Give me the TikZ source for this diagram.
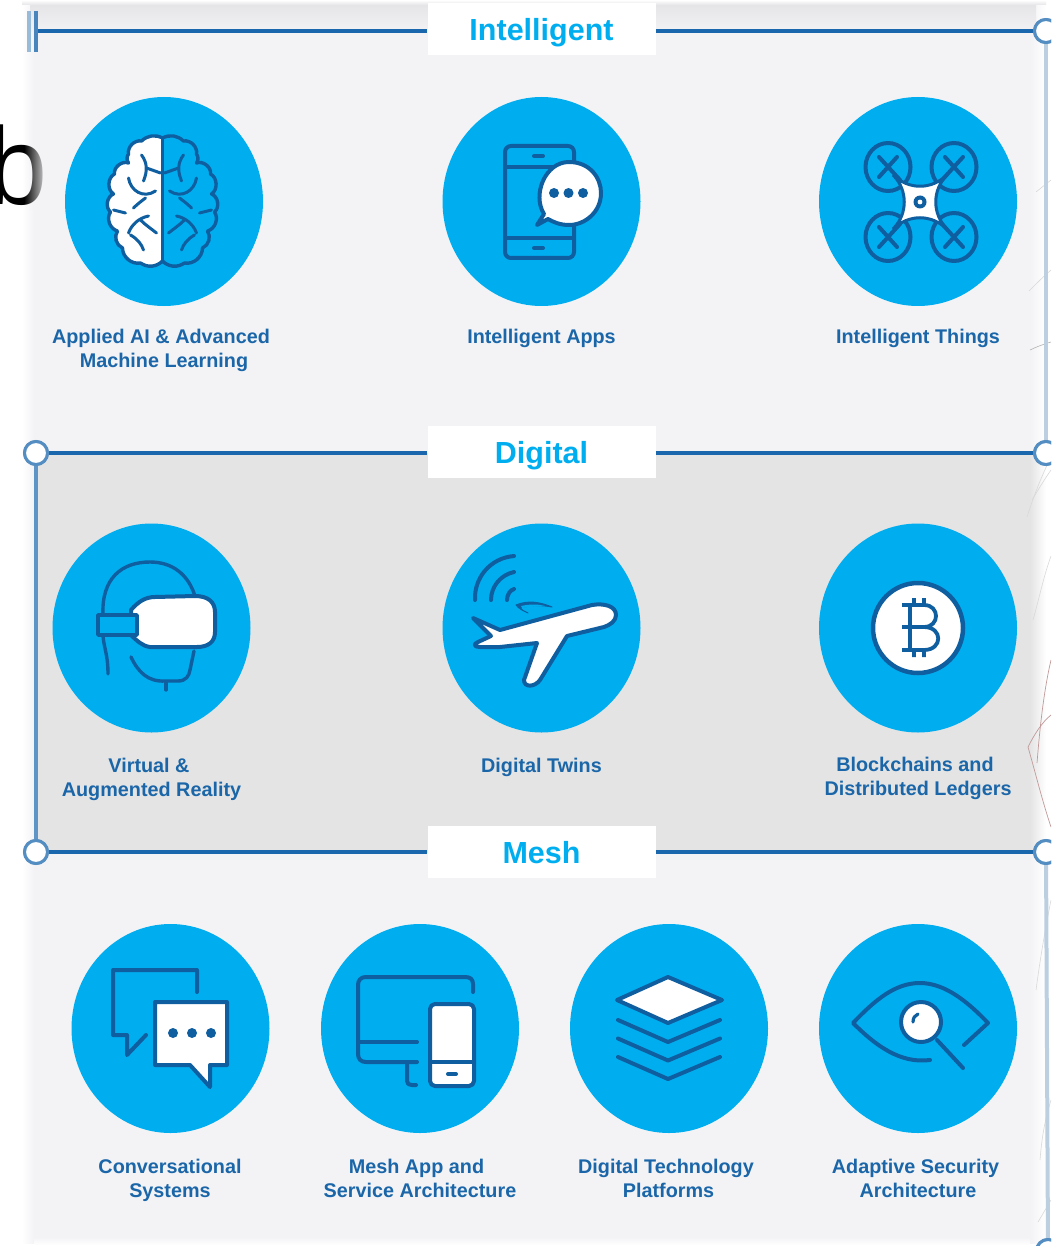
\documentclass[tikz,border=0pt]{standalone}
\usepackage{fontspec}
\setmainfont{Liberation Sans}
\usetikzlibrary{fadings,shapes.geometric}
\definecolor{panel}{HTML}{F3F3F6}
\definecolor{band}{HTML}{E4E4E4}
\definecolor{cyanc}{HTML}{00AEEF}
\definecolor{ink}{HTML}{0F5E9F}
\definecolor{labelc}{HTML}{1A66A8}
\definecolor{rulec}{HTML}{1B67AD}
\definecolor{sidec}{HTML}{BBCFE0}
\tikzfading[name=bfade,left color=transparent!100,right color=transparent!15]
\tikzset{
  disc/.style={draw=none,fill=cyanc,ellipse,minimum width=198pt,minimum height=209pt,inner sep=0pt},
  hdr/.style={fill=white,minimum width=228pt,minimum height=52pt,inner sep=0pt,text=cyanc,text height=23pt,text depth=0pt,font=\fontsize{30.5}{32}\selectfont\bfseries},
  lbl/.style={text=labelc,align=center,inner sep=0pt,font=\fontsize{19.8}{24}\selectfont\bfseries},
  handle/.style={circle,draw=rulec!75,fill=white,line width=3pt,minimum size=23pt,inner sep=0pt},
  rulel/.style={draw=rulec,line width=3.4pt},
  ico/.style={draw=ink,line width=4pt,line cap=round,line join=round},
  icow/.style={ico,fill=white},
  dotb/.style={fill=ink,draw=none},
  streak/.style={line width=.6pt,draw=black!15},
  streakr/.style={line width=.7pt,draw=red!40!black!40},
}
\newcommand{\brainhalf}{%
  (-1,-63) to[bend right=35] (-22,-60) to[bend right=55] (-35,-47) to[bend right=35] (-35,-38)
  to[bend right=60] (-49,-27) to[bend right=60] (-50,-7) to[bend right=60] (-53,11)
  to[bend right=55] (-46,30) to[bend right=50] (-41,47) to[bend right=50] (-23,62) to[bend right=40] (-1,60)}
\newcommand{\brainfolds}{%
  (-35,-23) .. controls (-33,-10) and (-20,-2) .. (-8,-10)
  (-22,-46) .. controls (-16,-38) and (-16,-30) .. (-20,-20)
  (-17,-33) -- (-3,-28)
  (-50,9) -- (-38,12)
  (-30,7) .. controls (-26,3) and (-22,0) .. (-18,-3)
  (-35,32) .. controls (-32,24) and (-25,17) .. (-15,15)
  (-23,19) .. controls (-18,24) and (-12,28) .. (-7,32)
  (-33,34) .. controls (-26,38) and (-22,43) .. (-20,49)}
\begin{document}
\begin{tikzpicture}[x=1pt,y=-1pt]
\useasboundingbox (0,0) rectangle (1051,1246);
\clip (0,0) rectangle (1051,1246);
% backgrounds
\fill[white] (0,0) rectangle (1051,1246);
\shade[left color=white,right color=panel] (22,3) rectangle (34,1243);
\fill[panel] (34,2) rectangle (1030,1238);
\shade[left color=panel,right color=white] (1030,2) rectangle (1046,1243);
\shade[top color=panel!94!black,bottom color=panel] (30,4) rectangle (1036,32);
\shade[top color=white,bottom color=panel!94!black] (22,0) rectangle (1046,5);
\shade[top color=panel,bottom color=white] (34,1237) rectangle (1030,1245);
\fill[band] (36,453) rectangle (1030,853);
\shade[left color=band,right color=white] (1030,453) rectangle (1046,853);
% faint strokes in the right margin
\draw[streak] (1051,270) .. controls (1044,276) and (1036,284) .. (1029,291);
\draw[streak] (1051,180) -- (1036,192);
\draw[streak,draw=black!30] (1051,342) .. controls (1044,344) and (1036,347) .. (1030,350);
\draw[streak] (1051,457) .. controls (1042,475) and (1034,495) .. (1027,517);
\draw[streak] (1051,470) .. controls (1044,480) and (1038,490) .. (1032,500);
\draw[streak] (1051,556) .. controls (1044,575) and (1040,595) .. (1033,620);
\draw[streakr] (1051,660) .. controls (1044,690) and (1040,725) .. (1037,763);
\draw[streakr] (1051,715) .. controls (1042,722) and (1034,735) .. (1028,747);
\draw[streakr] (1028,747) .. controls (1036,775) and (1042,800) .. (1051,827);
\draw[streak] (1051,900) .. controls (1045,930) and (1040,960) .. (1036,990);
\draw[streak] (1051,1100) .. controls (1045,1120) and (1042,1135) .. (1040,1160);
\draw[streak] (1051,1200) -- (1038,1222);
% the large letter
\node[anchor=base west,inner sep=0pt,font=\fontsize{110}{110}\selectfont,text=black] (bletter) at (-14,205) {b};
\fill[panel,path fading=bfade] (24,120) rectangle (45,210);
% frame
\node[hdr] (hI) at (541.5,29) {Intelligent};
\node[hdr] (hD) at (541.5,452) {Digital};
\node[hdr] (hM) at (541.5,852) {Mesh};
\coordinate (tl) at (36,31);
\coordinate (tb) at (36,11);
\coordinate (bb) at (36,52);
\coordinate (ta) at (29,11);
\coordinate (ba) at (29,52);
\node[handle] (hr1) at (1046,31) {};
\node[handle] (hl2) at (36,453) {};
\node[handle] (hr2) at (1046,453) {};
\node[handle] (hl3) at (36,852) {};
\node[handle] (hr3) at (1046,852) {};
\node[handle] (hr4) at (1048,1251) {};
\draw[draw=sidec,line width=4pt] (hr1) -- (hr2);
\draw[draw=sidec,line width=4pt] (hr3) -- (hr4);
\draw[rulel] (tl) -- (tl -| hI.west);
\draw[rulel] (hr1) -- (hr1 -| hI.east);
\draw[rulel] (hl2) -- (hl2 -| hD.west);
\draw[rulel] (hr2) -- (hr2 -| hD.east);
\draw[rulel] (hl3) -- (hl3 -| hM.west);
\draw[rulel] (hr3) -- (hr3 -| hM.east);
\draw[draw=rulec!70,line width=3.4pt] (hl2) -- (hl3);
\node[handle] at (hr1) {};
\node[handle] at (hl2) {};
\node[handle] at (hr2) {};
\node[handle] at (hl3) {};
\node[handle] at (hr3) {};
\node[handle] at (hr4) {};
\draw[rulec!45,line width=3.2pt] (ta) -- (ba);
\draw[rulec!80,line width=3.2pt] (tb) -- (bb);
% discs
\node[disc] (d1) at (164,201.5) {};
\node[disc] (d2) at (541.5,201.5) {};
\node[disc] (d3) at (918,201.5) {};
\node[disc] (d4) at (151.5,628) {};
\node[disc] (d5) at (541.5,628) {};
\node[disc] (d6) at (918,628) {};
\node[disc] (d7) at (170.5,1028.5) {};
\node[disc] (d8) at (420,1028.5) {};
\node[disc] (d9) at (669,1028.5) {};
\node[disc] (d10) at (918,1028.5) {};
% labels
\node[lbl] (l1) at (161,350) {Applied AI \& Advanced\\\hspace*{6pt}Machine Learning};
\node[lbl] (l2) at (541.5,338) {Intelligent Apps};
\node[lbl] (l3) at (918,338) {Intelligent Things};
\node[lbl] (l4) at (151.5,779) {\hspace*{-5pt}Virtual \&\\Augmented Reality};
\node[lbl] (l5) at (541.5,767) {Digital Twins};
\node[lbl] (l6) at (918,778) {\hspace*{-6pt}Blockchains and\\Distributed Ledgers};
\node[lbl] (l7) at (170,1180) {Conversational\\Systems};
\node[lbl] (l8) at (420,1178) {\hspace*{-7pt}Mesh App and\\Service Architecture};
\node[lbl] (l9) at (666,1178) {Digital Technology\\\hspace*{5pt}Platforms};
\node[lbl] (l10) at (915.5,1178) {Adaptive Security\\\hspace*{5pt}Architecture};
% brain
\begin{scope}[shift={(163.5,201)}]
  \fill[white] \brainhalf -- cycle;
  \draw[ico,line width=3.4pt] \brainhalf;
  \draw[ico,line width=3pt] \brainfolds;
  \draw[ico,line width=3.4pt] (-1,-63) -- (-1,61);
  \begin{scope}[xscale=-1,shift={(2,0)}]
    \draw[ico,line width=3.4pt] \brainhalf;
    \draw[ico,line width=3pt] \brainfolds;
  \end{scope}
\end{scope}
% phone + chat
\draw[ico,rounded corners=6pt] (505,146) rectangle (574,258);
\draw[ico] (505,167) -- (574,167) (505,238) -- (574,238);
\draw[ico] (534,156) -- (543,156) (534,248) -- (543,248);
\draw[icow] (544,214) .. controls (532,195) and (545,162) .. (569,162)
  .. controls (590,162) and (601,178) .. (601,193)
  .. controls (601,212) and (585,225) .. (569,225)
  .. controls (560,225) and (553,222) .. (548,219) -- (537,225) -- cycle;
\foreach \x in {554,568.5,583} \fill[dotb] (\x,193) circle (5pt);
% drone
\foreach \x/\y in {888/167,954/167,888/237,954/237}
  \draw[ico] (\x,\y) ellipse (22.5pt and 24pt);
\draw[ico] (879,157) -- (900,180) (897,157) -- (879,177);
\draw[ico] (963,157) -- (942,180) (945,157) -- (963,177);
\draw[ico] (879,247) -- (900,224) (897,247) -- (879,227);
\draw[ico] (963,247) -- (942,224) (945,247) -- (963,227);
\draw[icow,line width=3pt,line join=miter] (893,175) .. controls (909,190) and (931,190) .. (947,175)
  .. controls (932,190) and (932,214) .. (947,229)
  .. controls (931,214) and (909,214) .. (893,229)
  .. controls (908,214) and (908,190) .. (893,175) -- cycle;
\fill[ink] (920,202) circle (6.5pt);
\fill[white] (920,202) circle (2.4pt);
% VR headset
\draw[ico,line width=3.4pt] (103,616) .. controls (101,578) and (122,562) .. (150,562) .. controls (172,562) and (188,574) .. (195,596);
\draw[ico,line width=3.4pt] (103,636) .. controls (104,648) and (108,655) .. (108,674);
\draw[ico,line width=3.4pt] (131,657) .. controls (138,672) and (148,682) .. (165,681) -- (178,681) .. controls (186,681) and (189,676) .. (190,670) -- (194,651);
\draw[ico,line width=3.4pt] (166,682) -- (166,690);
\draw[icow] (131,610) .. controls (138,602) and (145,597) .. (155,597) -- (195,596)
  .. controls (208,596) and (215,602) .. (215,612) -- (215,632)
  .. controls (215,642) and (208,647) .. (197,647) -- (150,647)
  .. controls (142,646) and (136,640) .. (131,635) -- cycle;
\draw[ico,line width=3.4pt,fill=cyanc] (98,615) rectangle (137,635);
% plane
\draw[ico] (475,600) .. controls (474,578) and (490,558) .. (514,556);
\draw[ico] (491,600) .. controls (491,587) and (500,575) .. (514,572);
\draw[ico] (507,600) .. controls (507,595) and (510,590) .. (514,589);
\draw[ico,fill=ink,line width=1pt] (516,605) .. controls (528,600) and (540,602) .. (552,607) .. controls (542,605) and (530,605) .. (520,608) .. controls (522,610) and (525,612) .. (528,613) .. controls (524,611) and (519,609) .. (516,605) -- cycle;
\fill[cyanc] (521,606) .. controls (530,604) and (538,604) .. (545,606) .. controls (538,606) and (530,607) .. (522,608) -- cycle;
\draw[icow] (473,618) -- (500,630) -- (592,605)
  .. controls (604,603) and (616,606) .. (616,615) .. controls (616,621) and (610,625) .. (604,627)
  -- (567,636) -- (540,680) .. controls (535,687) and (524,688) .. (524,680)
  -- (537,643) -- (500,647) -- (480,647) .. controls (474,647) and (473,644) .. (478,642)
  -- (491,636) -- cycle;
% bitcoin
\node[circle,draw=ink,fill=white,line width=4.5pt,minimum size=90pt,inner sep=0pt] (coin) at (918,628) {};
\draw[ico,line width=3.8pt,line cap=butt,line join=miter] (902,605) -- (924,605) .. controls (940,605) and (940,627) .. (924,627) -- (902,627)
  (924,627) .. controls (943,627) and (943,650) .. (924,650) -- (902,650)
  (910,605) -- (910,650) (914,598) -- (914,605) (924,598) -- (924,605) (914,650) -- (914,657) (924,650) -- (924,657);
% conversation
\draw[ico] (197,992) -- (197,970) -- (113,970) -- (113,1035) -- (127,1035) -- (127,1055) -- (146,1035);
\draw[icow] (155,1002) -- (227,1002) -- (227,1065) -- (210,1065) -- (210,1087) -- (190,1065) -- (155,1065) -- cycle;
\foreach \x in {173,192,211} \fill[dotb] (\x,1033) circle (5pt);
% devices
\draw[ico] (473,992) -- (473,984) .. controls (473,979) and (470,977) .. (465,977) -- (366,977) .. controls (361,977) and (358,980) .. (358,985) -- (358,1054) .. controls (358,1059) and (361,1062) .. (366,1062) -- (417,1062);
\draw[ico] (358,1042) -- (417,1042);
\draw[ico] (407,1062) -- (407,1081) .. controls (407,1084) and (409,1085) .. (412,1085) -- (416,1085);
\draw[icow,rounded corners=5pt] (430,1004) rectangle (474,1086);
\draw[ico] (430,1062) -- (474,1062);
\draw[ico] (448,1074) -- (456,1074);
% layers
\draw[icow] (668,977) -- (722,1000) -- (668,1023) -- (617,1000) -- cycle;
\foreach \d in {0,18.5,37}
  \draw[ico] (618,1020+\d) -- (668,1042+\d) -- (720,1020+\d);
% eye
\draw[ico] (930,1060) .. controls (900,1064) and (875,1045) .. (853,1023) .. controls (875,1000) and (895,983) .. (920,983) .. controls (945,983) and (968,1002) .. (988,1023) -- (964,1045);
\draw[icow] (921,1022) circle (20pt);
\draw[ico] (937,1040) -- (963,1068);
\draw[ico,line width=3.2pt] (913,1022) .. controls (913,1018) and (915,1015) .. (918,1014);
\end{tikzpicture}
\end{document}
